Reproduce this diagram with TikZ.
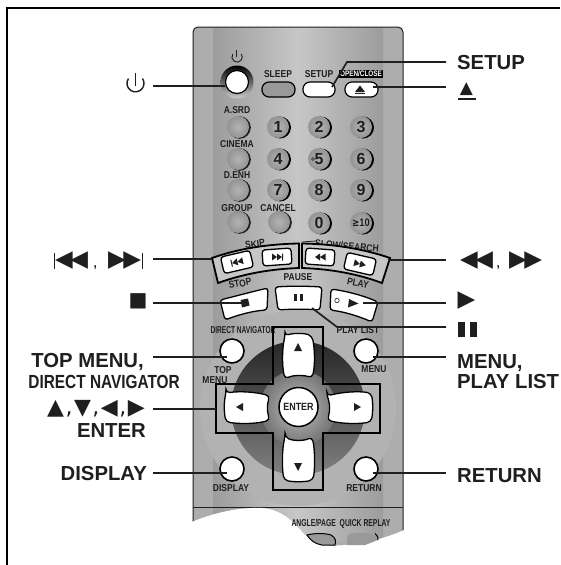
\documentclass[tikz,border=0pt]{standalone}
\usepackage{graphicx}
\usepackage{fontspec}
\setmainfont{Liberation Sans}
\newfontfamily\symfont{DejaVu Sans}
\usetikzlibrary{calc}
\definecolor{ink}{gray}{0.12}
\definecolor{body}{gray}{0.68}
\definecolor{bodymid}{gray}{0.78}
\definecolor{btn}{gray}{0.6}
\tikzset{
 lead/.style={draw=ink,line width=1.7pt},
 rlabel/.style={font=\bfseries\fontsize{10}{10}\selectfont,text=ink,inner sep=0pt,anchor=center},
 biglabel/.style={font=\bfseries\fontsize{20.3}{20}\selectfont,text=ink,inner sep=0pt,anchor=base west},
 bigright/.style={font=\bfseries\fontsize{20.3}{20}\selectfont,text=ink,inner sep=0pt,anchor=base east},
 symb/.style={font=\symfont\fontsize{#1}{#1}\selectfont,text=ink,inner sep=0pt,anchor=center},
 roundbtn/.style={circle,draw=black,line width=1.6pt,fill=white,minimum size=24pt,inner sep=0pt},
 graybtn/.style={circle,shade,inner color=black!30,outer color=black!42,minimum size=22pt,inner sep=0pt,text=ink},
 pill/.style={rounded corners=7pt,draw=black,line width=1.2pt,minimum height=15pt,inner sep=0pt},
 keybtn/.style={rounded corners=3pt,draw=black,line width=1.3pt,fill=white,inner sep=0pt},
 outline/.style={draw=black,line width=1.8pt},
}
\newcommand{\rl}[1]{\scalebox{.85}[1]{#1}}
\newcommand{\numkey}[4]{%
  \fill[black] (#2+2,#3+.5) circle[radius=11];
  \node[graybtn] (#1) at (#2,#3) {\fontsize{16}{16}\selectfont\bfseries #4};}
\newcommand{\plainkey}[3]{%
  \fill[ink] (#2+1.5,#3+.5) circle[radius=11.3];
  \node[graybtn] (#1) at (#2,#3) {};}
\begin{document}
\begin{tikzpicture}[x=1pt,y=-1pt]
\useasboundingbox (0,0) rectangle (560,565);
\fill[white] (0,0) rectangle (560,565);
% frame
\draw[black,line width=2pt] (6.5,565) -- (6.5,7.5) -- (560,7.5);
% remote body
\begin{scope}
\path[clip,rounded corners=5pt] (193,565) -- (193,27) -- (403,27) -- (403,565) -- cycle;
\fill[body] (193,27) rectangle (403,565);
\shade[left color=body!90!black,right color=bodymid] (213,27) rectangle (298,540);
\shade[left color=bodymid,right color=body!90!black] (298,27) rectangle (383,540);
\end{scope}
\draw[ink,line width=1pt,rounded corners=5pt] (193,560) -- (193,27) -- (403,27) -- (403,560);
\draw[ink,line width=.7pt] (193,507) -- (403,507);
% dpad disc
\fill[gray!60!white] (298,408) circle[radius=98];
\shade[top color=black!85,bottom color=gray] (298,408) circle[radius=67];
\shade[inner color=black!25,outer color=black!55] (298,408) circle[radius=38];
% torn bottom
\fill[white] (188,523.5) .. controls (215,512) and (240,507) .. (263,508) .. controls (282,510) and (294,522) .. (303,533) .. controls (312,542) and (320,545) .. (332,545.5) .. controls (350,546) and (380,541) .. (404,530) -- (408,565) -- (188,565) -- cycle;
\path[fill=btn,draw=black,line width=1pt] (307,535) .. controls (315,533) and (325,533) .. (331,535) .. controls (336,538) and (336,541) .. (335,545) -- (322,545) .. controls (315,544) and (310,540) .. (307,535) -- cycle;
\path[fill=btn] (347,545) -- (347,538) .. controls (348,533) and (352,533) .. (360,533) .. controls (370,533) and (376,534) .. (378,540) -- (365,545) -- cycle;
\draw[black,line width=1pt] (375,533.5) .. controls (378,535) and (378,538) .. (378,540);
% top row
\shade[top color=black,bottom color=gray!40] (237,82) circle[radius=16.5];
\node[circle,fill=white,draw=black,line width=1.2pt,minimum size=23pt,inner sep=0pt] (power) at (237,82) {};
\draw[ink,line width=.9pt] (232.8,54) arc[start angle=215,end angle=-35,radius=5.2];
\draw[ink,line width=.9pt] (236,49.5) -- (236,56.5);
\node[pill,fill=btn,minimum width=33pt] (sleep) at (278.5,89.5) {};
\node[pill,fill=white,minimum width=32pt] (setup) at (319,89.5) {};
\node[pill,fill=white,minimum width=33pt] (eject) at (361.5,89.5) {};
\fill[ink] (355,92) -- (365,92) -- (360,85.5) -- cycle;
\fill[ink] (355,93) rectangle (365,94);
\node[rlabel] (tsleep) at (278,74) {\rl{SLEEP}};
\node[rlabel] (tsetup) at (319,74) {\rl{SETUP}};
\node[fill=black,text=white,inner sep=1pt,font=\bfseries\fontsize{8}{8}\selectfont] (topen) at (361,74) {\scalebox{.8}[1]{OPEN/CLOSE}};
% number pad
\node[rlabel] (tasrd) at (237,110) {\rl{A.SRD}};
\plainkey{asrd}{238}{127}
\node[rlabel] (tcin) at (237,144) {\rl{CINEMA}};
\plainkey{cin}{238}{159}
\node[rlabel] (tdenh) at (237,175) {\rl{D.ENH}};
\plainkey{denh}{238}{190}
\node[rlabel] (tgrp) at (237,208) {\rl{GROUP}};
\plainkey{grp}{238}{222}
\node[rlabel] (tcan) at (278,208) {\rl{CANCEL}};
\plainkey{can}{279}{222}
\numkey{k1}{278}{127}{1}
\numkey{k2}{319}{127}{2}
\numkey{k3}{361}{127}{3}
\numkey{k4}{278}{159}{4}
\numkey{k5}{319}{159}{5}
\draw[ink,line width=.5pt] (313,159) circle[radius=1.5];
\numkey{k6}{361}{159}{6}
\numkey{k7}{278}{190}{7}
\numkey{k8}{319}{190}{8}
\numkey{k9}{361}{190}{9}
\numkey{k0}{319}{223}{0}
\numkey{k10}{361}{223}{\fontsize{11}{11}\selectfont\scalebox{.8}[1]{\symfont ≥}\scalebox{.85}[1]{10}}
% transport labels
\node[rlabel,rotate=8] (tskip) at (255,244) {\rl{SKIP}};
\node[rlabel,rotate=-5] (tslow) at (347,246) {\rl{SLOW/SEARCH}};
% transport groups
\path[outline,fill=bodymid] (212,258) .. controls (240,248) and (270,244) .. (299,243.5) -- (299,268) .. controls (270,269) and (243,274) .. (218,283) -- cycle;
\path[outline,fill=bodymid] (302,243.5) .. controls (331,244) and (361,248) .. (390,258) -- (382,283) .. controls (358,274) and (331,269) .. (302,268) -- cycle;
\draw[ink,line width=.8pt] (302,242) -- (316,241);
\node[keybtn,minimum width=30pt,minimum height=17pt,rotate=13] (prev) at (237,262) {};
\node[keybtn,minimum width=29pt,minimum height=16pt,rotate=4] (next) at (277,257) {};
\node[keybtn,minimum width=29pt,minimum height=16pt,rotate=-4] (rew) at (320,257) {};
\node[keybtn,minimum width=30pt,minimum height=17pt,rotate=-13] (ff) at (360,264) {};
\begin{scope}[rotate around={13:(237,262)}]
\fill[ink] (231,258.5) rectangle (232,265.5);
\fill[ink] (232,262) -- (237.5,258.5) -- (237.5,265.5) -- cycle;
\fill[ink] (237.5,262) -- (243,258.5) -- (243,265.5) -- cycle;
\end{scope}
\fill[ink] (272,257) -- (272,253.5) -- (277,257) -- (277,253.5) -- (282,257) -- (282,253.5) -- (283,253.5) -- (283,260.5) -- (282,260.5) -- (282,257) -- (277,260.5) -- (277,257) -- (272,260.5) -- cycle;
\fill[ink] (315,257) -- (320,253.5) -- (320,257) -- (325.5,253.5) -- (325.5,260.5) -- (320,257) -- (320,260.5) -- cycle;
\begin{scope}[rotate around={-13:(360,264)}]
\fill[ink] (354,260.5) -- (360,264) -- (360,260.5) -- (366,264) -- (360,267.5) -- (360,264) -- (354,267.5) -- cycle;
\end{scope}
\node[rlabel,rotate=10] (tstop) at (240,283.5) {\rl{STOP}};
\node[rlabel] (tpause) at (298,277) {\rl{PAUSE}};
\node[rlabel,rotate=-12] (tplay) at (358,283) {\rl{PLAY}};
% stop pause play
\path[keybtn] (220,300) .. controls (240,295) and (255,291) .. (268,288) -- (267,310) .. controls (252,311) and (238,315) .. (225,320) -- cycle;
\coordinate (stopbtn) at (245,303);
\fill[ink] (240.5,300) -- (248,298.5) -- (249.5,305.5) -- (242,307.5) -- cycle;
\path[keybtn] (275,287) .. controls (290,286) and (305,286) .. (322,287) -- (320,310) .. controls (305,309) and (292,309) .. (278,310) -- cycle;
\coordinate (pausebtn) at (312,308);
\fill[ink] (294,294) rectangle (297,301);
\fill[ink] (300,294) rectangle (303,301);
\path[keybtn] (331,289) .. controls (345,291) and (362,295) .. (378,302) -- (372,322) .. controls (358,316) and (345,312) .. (330,310) -- cycle;
\coordinate (playbtn) at (363,303);
\draw[ink,line width=.6pt] (337,300.5) circle[radius=2.2];
\fill[ink] (349,299) -- (358.5,303.5) -- (348,307.5) -- cycle;
% labels around dpad
\node[rlabel] (tdnav) at (243,330) {\scalebox{.66}[1]{DIRECT NAVIGATOR}};
\node[rlabel] (tplist) at (358,330) {\rl{PLAY LIST}};
\node[roundbtn] (top) at (232,351) {};
\node[roundbtn] (menu) at (366,351) {};
\node[roundbtn] (display) at (232,469) {};
\node[roundbtn] (return) at (366,469) {};
\node[rlabel] (ttop1) at (223,370) {\rl{TOP}};
\node[rlabel] (ttop2) at (215,380) {\rl{MENU}};
\node[rlabel] (tmenu) at (374,369) {\rl{MENU}};
\node[rlabel] (tdisp) at (231,488) {\rl{DISPLAY}};
\node[rlabel] (tret) at (364,488) {\rl{RETURN}};
\node[rlabel] (tangle) at (341,524) {\scalebox{.68}[1]{ANGLE/PAGE\ \ QUICK REPLAY}};
% cross
\draw[outline] (273,327) -- (323,327) -- (323,384) -- (380,384) -- (380,433) -- (323,433) -- (323,490) -- (273,490) -- (273,433) -- (216,433) -- (216,384) -- (273,384) -- cycle;
% arrow keys
\path[keybtn,rounded corners=4pt] (285,336) .. controls (293,333) and (304,333) .. (312,336) .. controls (315,350) and (315,366) .. (312,378) .. controls (304,375) and (293,375) .. (285,379) .. controls (282,366) and (282,350) .. (285,336) -- cycle;
\path[keybtn,rounded corners=4pt] (285,437) .. controls (293,441) and (304,441) .. (312,437) .. controls (315,450) and (315,468) .. (313,480) .. controls (304,482) and (293,482) .. (284,480) .. controls (282,468) and (282,450) .. (285,437) -- cycle;
\path[keybtn,rounded corners=4pt] (226,393) .. controls (240,391) and (256,392) .. (270,396) .. controls (267,404) and (267,412) .. (270,420) .. controls (256,424) and (240,424) .. (226,422) .. controls (224,412) and (224,402) .. (226,393) -- cycle;
\path[keybtn,rounded corners=4pt] (327,396) .. controls (342,392) and (358,391) .. (371,393) .. controls (373,402) and (373,412) .. (371,422) .. controls (358,424) and (342,424) .. (327,420) .. controls (330,412) and (330,404) .. (327,396) -- cycle;
\fill[ink] (298,343) -- (302,351) -- (294,351) -- cycle;
\fill[ink] (298,471) -- (302,463) -- (294,463) -- cycle;
\fill[ink] (236,407) -- (243,403) -- (243,411) -- cycle;
\fill[ink] (361,407) -- (354,403) -- (354,411) -- cycle;
\node[circle,draw=black,line width=1.5pt,fill=white,minimum size=39pt,inner sep=0pt,font=\bfseries\fontsize{10.5}{10}\selectfont,text=ink] (enter) at (298.5,407) {\scalebox{.85}[1]{ENTER}};
% big labels right
\node[biglabel] (lsetup) at (457,69) {SETUP};
\node[symb=17] (leject) at (466.5,89.5) {▲};
\fill[ink] (458,98.2) rectangle (475.5,99.8);
\node[symb=23] (lrew) at (476.5,261) {◀\kern-2.5pt◀};
\node[biglabel,font=\bfseries\fontsize{12}{12}\selectfont] (lcomma1) at (496.5,267) {,};
\node[symb=23] (lff) at (525.5,261) {▶\kern-2.5pt▶};
\node[symb=23] (lplay) at (466.5,301) {▶};
\fill[ink] (458,322) rectangle (464.5,337);
\fill[ink] (470,322) rectangle (476.5,337);
\node[biglabel] (lmenu) at (457,368) {MENU,};
\node[biglabel] (lplist) at (457,388) {PLAY LIST};
\node[biglabel] (lreturn) at (457,482) {RETURN};
% big labels left
\fill[ink] (54,253) rectangle (55.2,269);
\fill[ink] (142,253) rectangle (143.2,269);
\node[symb=23] (lprev) at (71.5,261) {◀\kern-2.5pt◀};
\node[biglabel,font=\bfseries\fontsize{12}{12}\selectfont] (lcomma2) at (93.5,267) {,};
\node[symb=23] (lnext) at (124.5,261) {▶\kern-2.5pt▶};
\node[symb=20] (lstop) at (138,301.5) {■};
\node[bigright] (ltop) at (144,367) {TOP MENU,};
\node[bigright,font=\bfseries\fontsize{19}{19}\selectfont] (ldnav) at (180,388) {\scalebox{.81}[1]{DIRECT NAVIGATOR}};
\node[symb=22] (ltri) at (96,408.5) {▲\kern1.5pt,\kern1.5pt▼\kern1.5pt,\kern1.5pt◀\kern1.5pt,\kern1.5pt▶};
\node[bigright] (lenter) at (146,437) {ENTER};
\node[bigright] (ldisp) at (147,480) {DISPLAY};
\draw[ink,line width=1.4pt] (128.5,78.5) arc[start angle=215,end angle=-35,radius=8.5];
\draw[ink,line width=1.4pt] (135.5,73) -- (135.5,86);
% connectors
\coordinate (a1) at (153,86);
\draw[lead] (a1) -- (power.west |- a1);
\coordinate (b1) at (446,62); \coordinate (b2) at (347,62); \coordinate (b3) at (332,87);
\draw[lead] (b1) -- (b2) -- (b3);
\coordinate (c1) at (446,87); \coordinate (c2) at (373,87);
\draw[lead] (c1) -- (c2);
\coordinate (d1) at (153,259); \coordinate (d2) at (212,259);
\draw[lead] (d1) -- (d2);
\coordinate (e1) at (446,260); \coordinate (e2) at (388,260);
\draw[lead] (e1) -- (e2);
\coordinate (f1) at (153,303);
\draw[lead] (f1) -- (stopbtn);
\coordinate (g1) at (446,303);
\draw[lead] (g1) -- (playbtn);
\coordinate (h1) at (446,327); \coordinate (h2) at (337,327);
\draw[lead] (h1) -- (h2) -- (pausebtn);
\coordinate (i1) at (153,357); \coordinate (i2) at (227,357);
\draw[lead] (i1) -- (i2);
\coordinate (j1) at (446,357); \coordinate (j2) at (373,357);
\draw[lead] (j1) -- (j2);
\coordinate (k1c) at (153,409); \coordinate (k2c) at (216,409);
\draw[lead] (k1c) -- (k2c);
\coordinate (l1) at (153,473); \coordinate (l2) at (227,473);
\draw[lead] (l1) -- (l2);
\coordinate (m1) at (446,473); \coordinate (m2) at (373,473);
\draw[lead] (m1) -- (m2);
\end{tikzpicture}
\end{document}
